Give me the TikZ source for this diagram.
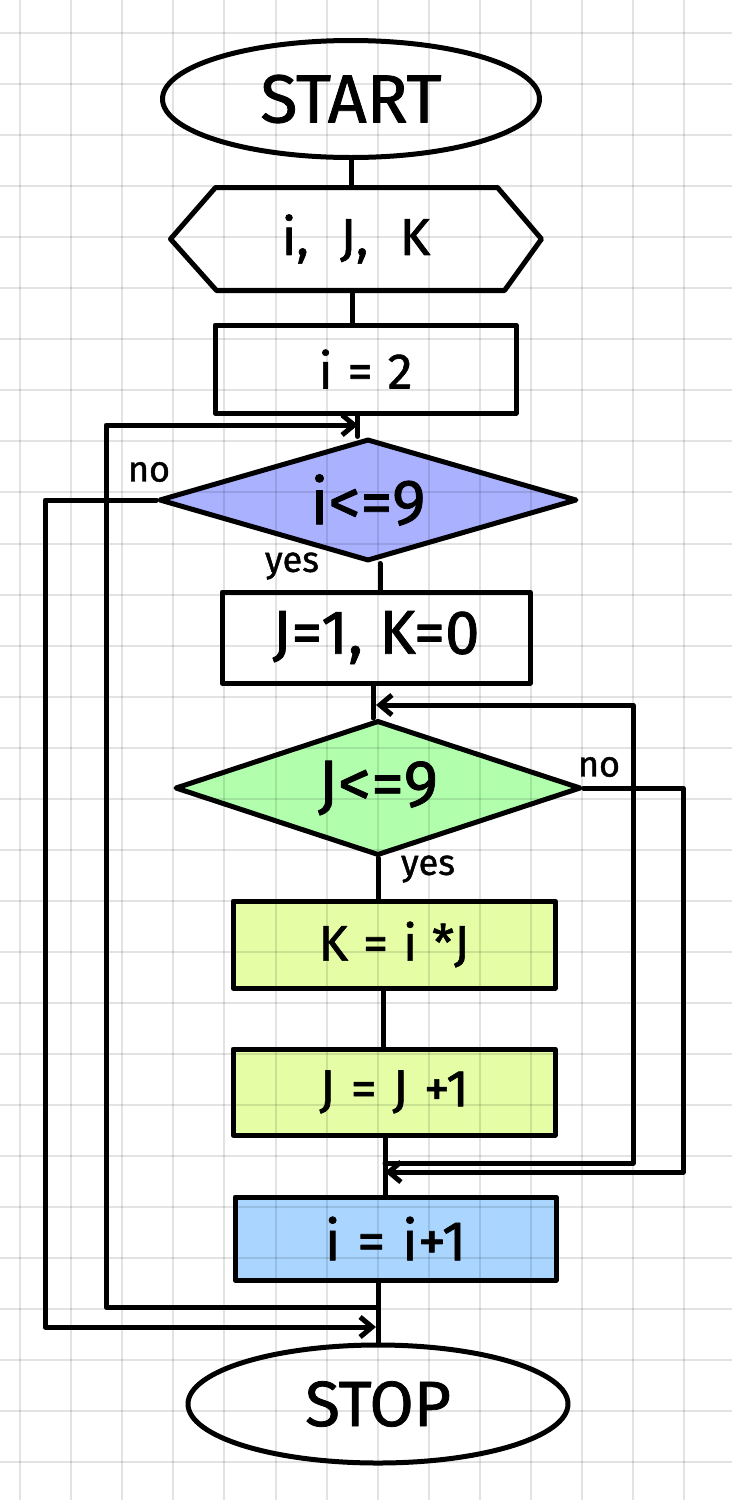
\documentclass[tikz,border=0pt]{standalone}
\usepackage{fontspec}
\setmainfont{Fira Sans}[FakeBold=1.2]
\usetikzlibrary{shapes.geometric,arrows.meta,calc}
\definecolor{diaA}{RGB}{170,178,255}
\definecolor{diaB}{RGB}{177,255,172}
\definecolor{boxG}{RGB}{229,253,165}
\definecolor{boxB}{RGB}{169,213,254}
\newcommand{\gp}{\hspace{0.3em}}
\begin{document}
\begin{tikzpicture}[x=1pt,y=-1pt,
  line width=5pt, line cap=round, line join=round,
  box/.style={draw, rectangle, inner sep=0pt},
  term/.style={draw, ellipse, inner sep=0pt},
  dec/.style={draw, diamond, inner sep=0pt, aspect=3.4},
  conn/.style={line width=5pt},
  arr/.style={conn, -{Straight Barb[length=12pt,width=20pt]}},
  lbl/.style={inner sep=0pt, font=\fontsize{36}{36}\selectfont},
  gridl/.style={draw=black, draw opacity=0.11, line width=2pt, line cap=butt},
  fs/.style={font=\fontsize{#1}{#1}\selectfont}
]
\fill[white] (0,0) rectangle (732,1500);
\useasboundingbox (0,0) rectangle (732,1500);

% nodes
\node[term, minimum width=377pt, minimum height=117pt, fs=68] (start) at (351,99) {START};
\node[inner sep=0pt, minimum width=366pt, minimum height=98pt, fs=52] (hex) at (356,239) {i,\gp\gp J,\gp\gp K};
\draw (hex.west) -- ([xshift=45pt]hex.north west) -- ([xshift=-44pt]hex.north east)
  -- (hex.east) -- ([xshift=-37pt]hex.south east) -- ([xshift=46pt]hex.south west) -- cycle;
\node[box, minimum width=301pt, minimum height=88pt, fs=50] (i2) at (365.5,369) {i\gp =\gp 2};
\node[dec, fill=diaA, minimum width=418pt, minimum height=122pt, fs=64] (d1) at (368,500) {i<{}=9};
\node[box, minimum width=308pt, minimum height=91pt, fs=62] (b1) at (376,637.5) {J=1, K=0};
\node[dec, fill=diaB, minimum width=406pt, minimum height=135pt, fs=66] (d2) at (378,788) {J<{}=9};
\node[box, fill=boxG, minimum width=322pt, minimum height=87pt, fs=50] (kb) at (394,944.5) {K\gp =\gp i\gp *J};
\node[box, fill=boxG, minimum width=322pt, minimum height=86pt, fs=52] (jb) at (394,1092) {J\gp =\gp J\gp +1};
\node[box, fill=boxB, minimum width=321pt, minimum height=83pt, fs=56] (ib) at (395.5,1238.5) {i\gp =\gp i+1};
\node[term, minimum width=380pt, minimum height=118pt, fs=64] (stop) at (378,1404) {STOP};

% labels
\node[lbl] (no1) at (149,472) {no};
\node[lbl] (yes1) at (292,566) {yes};
\node[lbl] (no2) at (599,767) {no};
\node[lbl] (yes2) at (428,869) {yes};

% coordinates for connectors
\coordinate (lx1) at (106,425);
\coordinate (m1) at (358,425);
\coordinate (j1) at (376,1307);
\coordinate (lx2) at (45,1327);
\coordinate (m4) at (376,1327);
\coordinate (j2) at (385,1163);
\coordinate (rx1) at (633,705);
\coordinate (m2) at (376,705);
\coordinate (rx2) at (683,1172);
\coordinate (m3) at (385,1172);

% spine
\draw[conn] (start.south) -- (start.south |- hex.north);
\draw[conn] ([xshift=-4pt]hex.south) -- ([xshift=-4pt]hex.south |- i2.north);
\draw[conn] ([xshift=-8pt]i2.south) -- ([xshift=-8pt]i2.south |- d1.north);
\draw[conn] ([xshift=12pt]d1.south) -- ([xshift=12pt]d1.south |- b1.north);
\draw[conn] ([xshift=-3pt]b1.south) -- ([xshift=-3pt]b1.south |- d2.north);
\draw[conn] (d2.south) -- (d2.south |- kb.north);
\draw[conn] ([xshift=-11pt]kb.south) -- ([xshift=-11pt]kb.south |- jb.north);
\draw[conn] ([xshift=-9pt]jb.south) -- ([xshift=-9pt]jb.south |- ib.north);
\draw[conn] (stop.north |- ib.south) -- (stop.north);

% loops
\draw[arr] (j1) -| (lx1) -- (m1);
\draw[arr] (d1.west) -| (lx2) -- (m4);
\draw[arr] (j2) -| (rx1) -- (m2);
\draw[arr] (d2.east) -| (rx2) -- (m3);

% grid paper
\foreach \i in {0,...,14} \draw[gridl] ({20+51.1*\i},0) -- ({20+51.1*\i},1500);
\foreach \j in {0,...,28} \draw[gridl] (0,{33+51.05*\j}) -- (732,{33+51.05*\j});
\end{tikzpicture}
\end{document}
